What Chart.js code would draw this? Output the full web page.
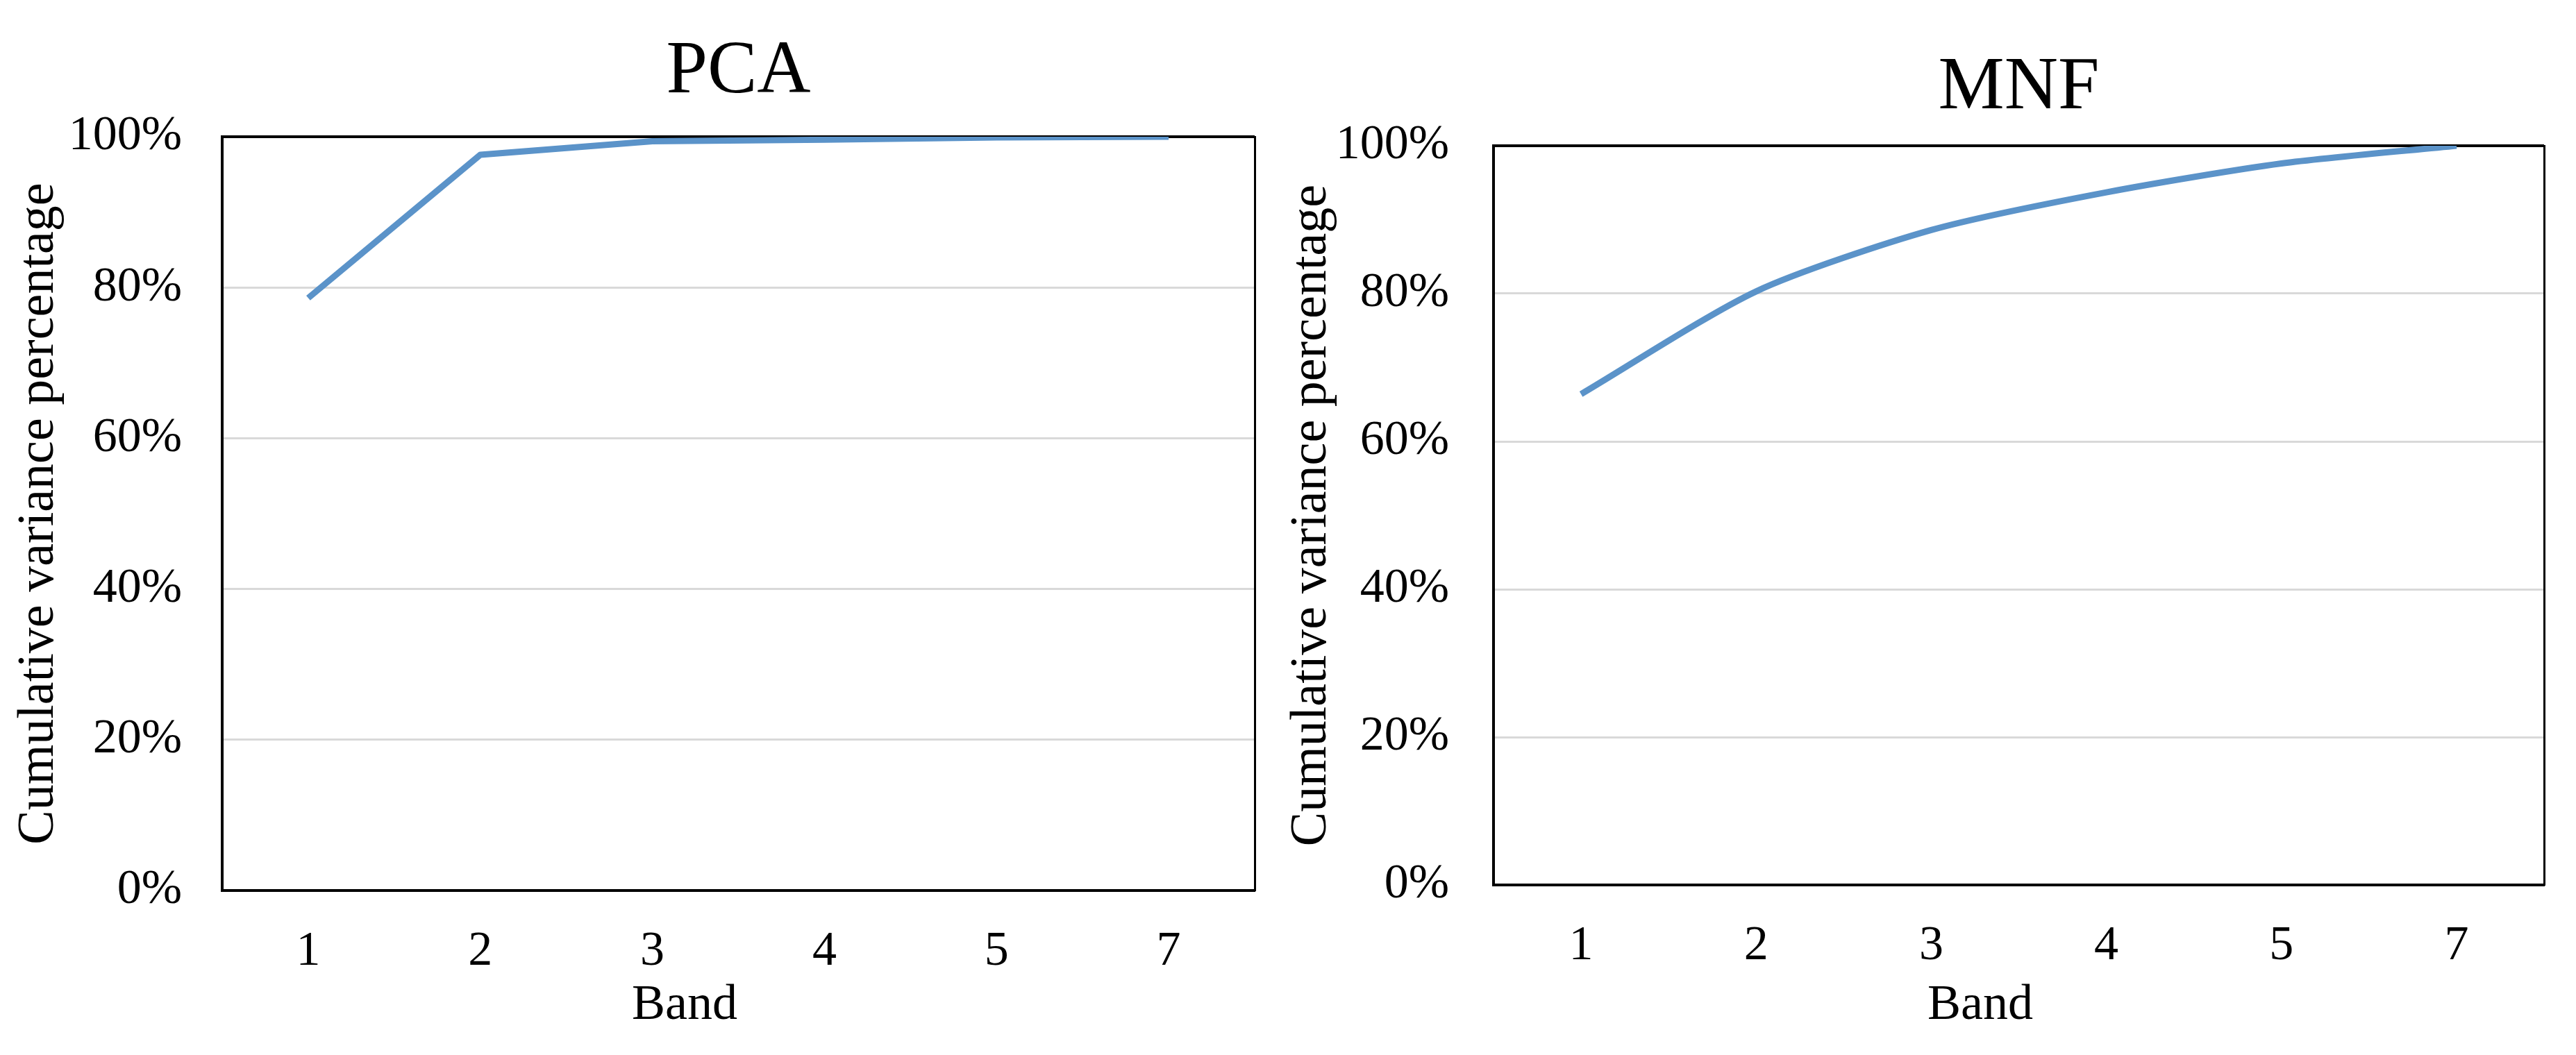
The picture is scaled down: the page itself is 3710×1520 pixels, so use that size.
<!DOCTYPE html>
<html>
<head>
<meta charset="utf-8">
<title>PCA / MNF cumulative variance</title>
<script src="https://cdn.jsdelivr.net/npm/chart.js@4.4.1/dist/chart.umd.min.js"></script>
<style>
  html, body { margin: 0; padding: 0; background: #fff; }
  #wrap { position: relative; width: 3710px; height: 1520px; overflow: hidden; background: #fff; }
  #wrap canvas { position: absolute; top: 0; }
</style>
</head>
<body>
<div id="wrap">
  <canvas id="chartPca" width="1972" height="1520" style="left:0; width:1972px; height:1520px;"></canvas>
  <canvas id="chartMnf" width="2024" height="1520" style="left:1840px; width:2024px; height:1520px;"></canvas>
</div>
<script>
// values (cumulative variance, %)
const bands = ['1', '2', '3', '4', '5', '7'];
const pcaCumVar = [78.6, 97.6, 99.4, 99.6, 99.9, 100];
const mnfCumVar = [66.4, 80.3, 88.6, 93.7, 97.6, 100];
const yTicks = [0, 20, 40, 60, 80, 100];

const SERIF = '"Liberation Serif", "Times New Roman", "DejaVu Serif", serif';
const LINE_BLUE = '#5B93C9';

function serif(size) {
  return { family: SERIF, size: size, weight: 'normal', lineHeight: 1.2 };
}

// the 0% / 100% grid lines double as the bottom/top frame of the plot box
function isFrame(c) {
  return c.tick && (c.tick.value === 0 || c.tick.value === 100);
}

function buildChart(id, o) {
  return new Chart(document.getElementById(id), {
    type: 'line',
    data: {
      labels: bands,
      datasets: [{
        data: o.values,
        borderColor: LINE_BLUE,
        borderWidth: 9,
        pointRadius: 0,
        pointHoverRadius: 0,
        tension: o.tension,
        borderJoinStyle: 'round',
        fill: false
      }]
    },
    options: {
      responsive: false,
      animation: false,
      layout: { padding: 0 },
      plugins: {
        legend: { display: false },
        tooltip: { enabled: false },
        title: {
          display: true,
          text: o.title,
          fullSize: false,
          color: '#000',
          font: serif(107),
          padding: o.titlePad
        },
        subtitle: {
          display: true,
          text: 'Band',
          position: 'bottom',
          color: '#000',
          font: serif(72),
          padding: o.bandPad
        }
      },
      scales: {
        x: {
          offset: true,
          grid: { display: false },
          border: { display: true, color: '#000', width: 4 },
          ticks: { color: '#000', font: serif(70), padding: 39, maxRotation: 0 },
          afterFit: s => { s.height = 123; }
        },
        y: {
          min: 0,
          max: 100,
          afterBuildTicks: s => { s.ticks = yTicks.map(v => ({ value: v })); },
          grid: {
            drawTicks: false,
            color: c => isFrame(c) ? '#000' : '#d9d9d9',
            lineWidth: c => isFrame(c) ? 4 : 3
          },
          border: { display: true, color: '#000', width: 4 },
          ticks: {
            color: '#000',
            font: serif(70),
            padding: o.tickPad,
            callback: v => v + '%'
          },
          title: {
            display: true,
            text: 'Cumulative variance percentage',
            color: '#000',
            font: serif(74),
            padding: { top: o.yTitlePad, bottom: 0 }
          },
          afterFit: s => { s.width = o.yAxisWidth; }
        },
        // empty right axis: draws the right side of the frame and keeps room on the right
        yr: {
          type: 'linear',
          position: 'right',
          display: true,
          grid: { display: false },
          ticks: { display: false },
          border: { display: true, color: '#000', width: 3 },
          afterFit: s => { s.width = o.rightRoom; }
        }
      }
    }
  });
}

buildChart('chartPca', {
  title: 'PCA',
  values: pcaCumVar,
  tension: 0,
  titlePad: { top: 40.8, bottom: 27.8 },
  bandPad: { top: 0, bottom: 27.6 },
  tickPad: 58,
  yTitlePad: 12.6,
  yAxisWidth: 320,
  rightRoom: 165
});

buildChart('chartMnf', {
  title: 'MNF',
  values: mnfCumVar,
  tension: 0.25,
  titlePad: { top: 63.3, bottom: 18.3 },
  bandPad: { top: 7.8, bottom: 27.8 },
  tickPad: 64,
  yTitlePad: 5.6,
  yAxisWidth: 311,
  rightRoom: 200
});
</script>
</body>
</html>
